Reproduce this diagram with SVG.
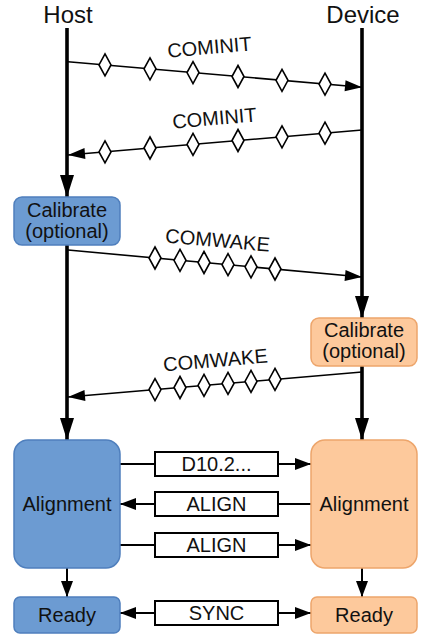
<svg xmlns="http://www.w3.org/2000/svg" width="427" height="641" viewBox="0 0 427 641">
<style>
text{font-family:"Liberation Sans",Arial,sans-serif;fill:#111;text-anchor:middle}
.hd{font-size:24px}
.bt{font-size:20px}
.ml{font-size:20px}
.life{stroke:#000;stroke-width:3.6;fill:none}
.msg{stroke:#000;stroke-width:1.6;fill:none}
.dm{fill:#fff;stroke:#000;stroke-width:1.6}
.conn{stroke:#000;stroke-width:2;fill:none}
.lbl{fill:#fff;stroke:#000;stroke-width:2}
.blue{fill:#6c9bd2;stroke:#4f7fbd;stroke-width:1.5}
.peach{fill:#fdc99c;stroke:#eda56b;stroke-width:1.5}
</style>
<defs>
<marker id="big" markerUnits="userSpaceOnUse" markerWidth="22" markerHeight="14" refX="22" refY="7" viewBox="0 0 22 14" orient="auto" overflow="visible">
<path d="M0,0 L22,7 L0,14 Z" fill="#000"/>
</marker>
<marker id="mid" markerUnits="userSpaceOnUse" markerWidth="16" markerHeight="12" refX="16" refY="6" viewBox="0 0 16 12" orient="auto" overflow="visible">
<path d="M0,0 L16,6 L0,12 Z" fill="#000"/>
</marker>
<marker id="sm" markerUnits="userSpaceOnUse" markerWidth="17" markerHeight="11" refX="17" refY="5.5" viewBox="0 0 17 11" orient="auto" overflow="visible">
<path d="M0,0 L17,5.5 L0,11 Z" fill="#000"/>
</marker>
<path id="d" d="M0,-11 L6,0 L0,11 L-6,0 Z"/>
</defs>

<g id="host-label"><text class="hd" x="68" y="23">Host</text></g>
<g id="device-label"><text class="hd" x="363" y="23">Device</text></g>

<g id="connectors">
<!-- lifelines -->
<line class="life" x1="67" y1="28" x2="67" y2="197" marker-end="url(#big)"/>
<line class="life" x1="362" y1="28" x2="362" y2="318" marker-end="url(#big)"/>
<line class="life" x1="67" y1="245" x2="67" y2="440" marker-end="url(#big)"/>
<line class="life" x1="362" y1="366" x2="362" y2="440" marker-end="url(#big)"/>
<line class="conn" x1="67" y1="568" x2="67" y2="597" marker-end="url(#mid)"/>
<line class="conn" x1="362" y1="568" x2="362" y2="597" marker-end="url(#mid)"/>

<!-- COMINIT 1 -->
<line class="msg" x1="68" y1="61.7" x2="362" y2="87.3" marker-end="url(#sm)"/>
<use href="#d" class="dm" x="105" y="64.9"/>
<use href="#d" class="dm" x="150" y="68.8"/>
<use href="#d" class="dm" x="193" y="72.6"/>
<use href="#d" class="dm" x="238" y="76.5"/>
<use href="#d" class="dm" x="282" y="80.3"/>
<use href="#d" class="dm" x="325" y="84.1"/>
<text class="ml" x="210" y="54" transform="rotate(-5 210 54)">COMINIT</text>

<!-- COMINIT 2 -->
<line class="msg" x1="362" y1="130" x2="68" y2="155" marker-end="url(#sm)"/>
<use href="#d" class="dm" x="105" y="151.9"/>
<use href="#d" class="dm" x="150" y="148"/>
<use href="#d" class="dm" x="193" y="144.4"/>
<use href="#d" class="dm" x="238" y="140.5"/>
<use href="#d" class="dm" x="282" y="136.8"/>
<use href="#d" class="dm" x="325" y="133.2"/>
<text class="ml" x="215" y="125" transform="rotate(-5 215 125)">COMINIT</text>

<!-- COMWAKE 1 -->
<line class="msg" x1="68" y1="250" x2="362" y2="277" marker-end="url(#sm)"/>
<use href="#d" class="dm" x="155" y="258"/>
<use href="#d" class="dm" x="180" y="260.3"/>
<use href="#d" class="dm" x="204" y="262.5"/>
<use href="#d" class="dm" x="228" y="264.7"/>
<use href="#d" class="dm" x="251" y="266.8"/>
<use href="#d" class="dm" x="275" y="269"/>
<text class="ml" x="217" y="247" transform="rotate(5 217 247)">COMWAKE</text>

<!-- COMWAKE 2 -->
<line class="msg" x1="362" y1="372" x2="68" y2="397" marker-end="url(#sm)"/>
<use href="#d" class="dm" x="155" y="389.6"/>
<use href="#d" class="dm" x="180" y="387.5"/>
<use href="#d" class="dm" x="204" y="385.4"/>
<use href="#d" class="dm" x="228" y="383.4"/>
<use href="#d" class="dm" x="251" y="381.4"/>
<use href="#d" class="dm" x="275" y="379.4"/>
<text class="ml" x="216" y="367" transform="rotate(-5 216 367)">COMWAKE</text>

<!-- Alignment exchanges -->
<line class="conn" x1="120" y1="464" x2="155" y2="464"/>
<line class="conn" x1="278" y1="464" x2="311" y2="464" marker-end="url(#mid)"/>
<rect class="lbl" x="155" y="452" width="123" height="24"/>
<text class="bt" x="216.5" y="471">D10.2...</text>

<line class="conn" x1="311" y1="504" x2="278" y2="504"/>
<line class="conn" x1="155" y1="504" x2="120" y2="504" marker-end="url(#mid)"/>
<rect class="lbl" x="155" y="492" width="123" height="24"/>
<text class="bt" x="216.5" y="511">ALIGN</text>

<line class="conn" x1="120" y1="545" x2="155" y2="545"/>
<line class="conn" x1="278" y1="545" x2="311" y2="545" marker-end="url(#mid)"/>
<rect class="lbl" x="155" y="533" width="123" height="24"/>
<text class="bt" x="216.5" y="552">ALIGN</text>

<line class="conn" x1="155" y1="613" x2="120" y2="613" marker-end="url(#mid)"/>
<line class="conn" x1="278" y1="613" x2="311" y2="613" marker-end="url(#mid)"/>
<rect class="lbl" x="155" y="601" width="123" height="24"/>
<text class="bt" x="216.5" y="620">SYNC</text>
</g>

<g id="host-calibrate">
<rect class="blue" x="14" y="197" width="106" height="48" rx="8"/>
<text class="bt" x="67" y="217">Calibrate</text>
<text class="bt" x="67" y="238">(optional)</text>
</g>
<g id="device-calibrate">
<rect class="peach" x="311" y="318" width="106" height="48" rx="8"/>
<text class="bt" x="364" y="337">Calibrate</text>
<text class="bt" x="364" y="358">(optional)</text>
</g>
<g id="host-alignment">
<rect class="blue" x="14" y="440" width="106" height="128" rx="14"/>
<text class="bt" x="67" y="511">Alignment</text>
</g>
<g id="device-alignment">
<rect class="peach" x="311" y="440" width="106" height="128" rx="14"/>
<text class="bt" x="364" y="511">Alignment</text>
</g>
<g id="host-ready">
<rect class="blue" x="14" y="597" width="106" height="36" rx="6"/>
<text class="bt" x="67" y="622">Ready</text>
</g>
<g id="device-ready">
<rect class="peach" x="311" y="597" width="106" height="36" rx="6"/>
<text class="bt" x="364" y="622">Ready</text>
</g>
</svg>
